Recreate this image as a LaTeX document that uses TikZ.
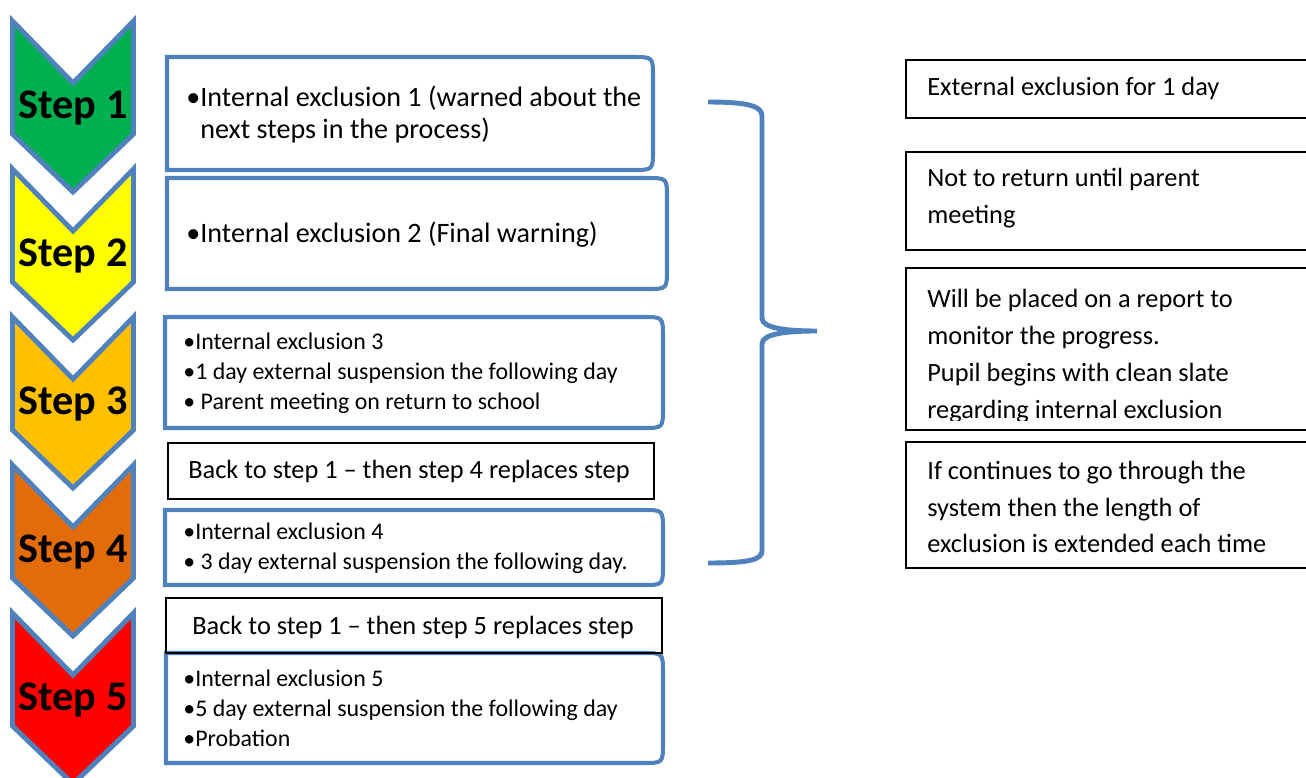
\documentclass[tikz,border=0pt]{standalone}
\usepackage{fontspec}
\setmainfont{Carlito}

\definecolor{stepblue}{RGB}{79,129,189}
\definecolor{stepgreen}{RGB}{0,176,80}
\definecolor{stepyellow}{RGB}{255,255,0}
\definecolor{steporange}{RGB}{255,192,0}
\definecolor{stepdark}{RGB}{227,108,10}
\definecolor{stepred}{RGB}{255,0,0}

\tikzset{
  chevron/.style={draw=stepblue, line width=2.8pt, line join=miter},
  bluebox/.style={draw=stepblue, line width=2.3pt},
  plainbox/.style={draw=black, line width=0.8pt},
  steplabel/.style={inner sep=0pt, font=\fontsize{24}{28}\selectfont\bfseries},
  bigtext/.style={anchor=west, inner sep=0pt, align=left, font=\fontsize{16}{18.2}\selectfont},
  smalltext/.style={anchor=west, inner sep=0pt, align=left, font=\fontsize{13.6}{17}\selectfont},
  notetext/.style={anchor=west, inner sep=0pt, align=left, font=\fontsize{15}{21}\selectfont},
}

\begin{document}
\begin{tikzpicture}[x=0.02cm,y=-0.02cm]

  \useasboundingbox (0,0) rectangle (1306,778);
  \clip (0,0) rectangle (1306,778);

  % chevrons
  \foreach \n/\col/\y in {1/stepgreen/15, 2/stepyellow/163, 3/steporange/311, 4/stepdark/459, 5/stepred/607} {
    \draw[chevron, fill=\col] (12.5,{\y+6}) -- (73,{\y+68}) -- (133.5,{\y+6}) -- (133.5,{\y+119})
      -- (73,{\y+177}) -- (12.5,{\y+119}) -- cycle;
    \node[steplabel] (step\n) at (73,{\y+93}) {Step \n};
  }

  % boxes with rounded right side
  \foreach \xa/\ya/\xb/\yb in {167/57/653/170, 167/178/667/289, 165/317/663/428, 165/510/663/585, 166/653/663/763}
    \draw[bluebox] (\xa,\ya) -- ({\xb-20},\ya) .. controls (\xb,\ya) .. (\xb,{\ya+20})
      -- (\xb,{\yb-20}) .. controls (\xb,\yb) .. ({\xb-20},\yb) -- (\xa,\yb) -- cycle;

  % plain boxes
  \draw[plainbox] (168,443) rectangle (654,499);
  \draw[plainbox] (166,598) rectangle (662,653);
  \foreach \ya/\yb in {60/118, 152/250, 268/430, 442/568}
    \draw[plainbox] (906,\ya) rectangle (1330,\yb);

  % texts
  \node[bigtext] (ie1) at (186,114) {•Internal exclusion 1 (warned about the\\\phantom{•}next steps in the process)};
  \node[bigtext] (ie2) at (186,235) {•Internal exclusion 2 (Final warning)};
  \node[smalltext] (ie3) at (183,373) {•Internal exclusion 3\\•1 day external suspension the following day\\• Parent meeting on return to school};
  \node[notetext] (back4) at (188,471) {Back to step 1 – then step 4 replaces step};
  \node[smalltext] (ie4) at (183,548) {•Internal exclusion 4\\• 3 day external suspension the following day.};
  \node[notetext] (back5) at (192,627) {Back to step 1 – then step 5 replaces step};
  \node[smalltext] (ie5) at (183,708) {•Internal exclusion 5\\•5 day external suspension the following day\\•Probation};

  % brace
  \draw[stepblue, line width=2.8pt] (708,102) .. controls (748,102) and (762,106) .. (762,116) -- (762,318)
    .. controls (762,328) and (785,331) .. (817,331) .. controls (785,331) and (762,334) .. (762,344)
    -- (762,551) .. controls (762,560) and (748,563) .. (708,563);

  % outcomes
  \node[notetext] (out1) at (927,88) {External exclusion for 1 day};
  \node[notetext] (out2) at (927,198) {Not to return until parent\\meeting};
  \begin{scope}
    \clip (900,268) rectangle (1306,420);
    \node[notetext] (out3) at (927,356) {Will be placed on a report to\\monitor the progress.\\Pupil begins with clean slate\\regarding internal exclusion};
  \end{scope}
  \node[notetext] (out4) at (927,507) {If continues to go through the\\system then the length of\\exclusion is extended each time};

\end{tikzpicture}
\end{document}
